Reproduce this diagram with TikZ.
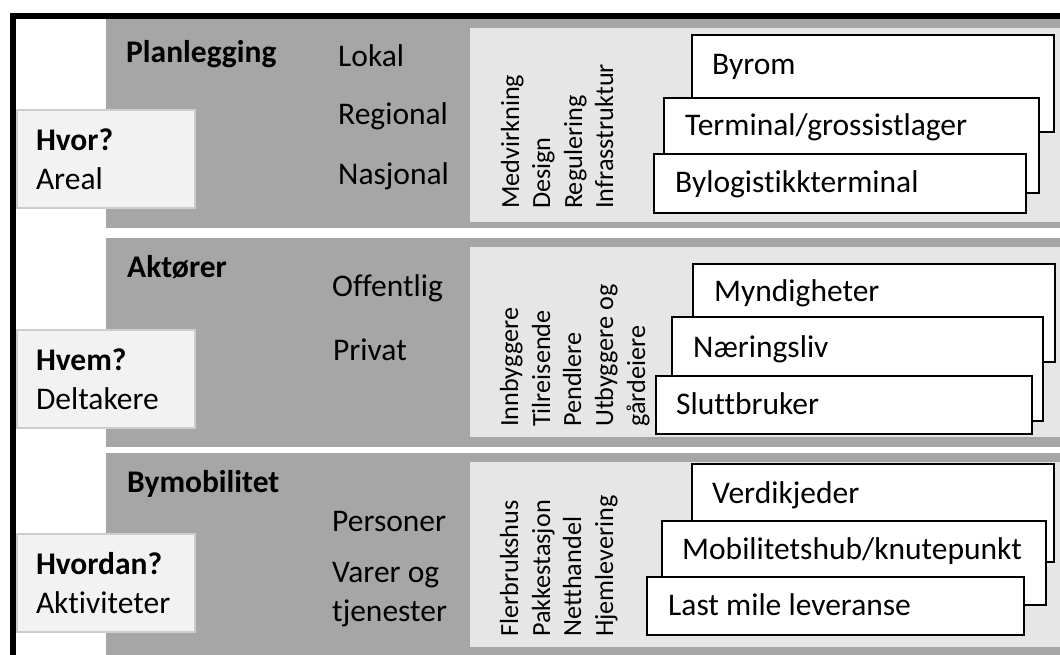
\documentclass[tikz,border=0pt]{standalone}
\usepackage{fontspec}
\setmainfont[Ligatures=NoCommon]{Carlito}
\usepackage{xcolor}
\definecolor{bandgray}{HTML}{A6A6A6}
\definecolor{panelgray}{HTML}{E7E6E6}
\definecolor{askfill}{HTML}{F2F2F2}
\definecolor{askline}{HTML}{CDCDCD}
\newcommand{\txtbig}{\fontsize{31.5}{39}\selectfont}
\newcommand{\txtsmall}{\fontsize{26.2}{32}\selectfont}
\tikzset{band/.style={fill=bandgray}, panel/.style={fill=panelgray}}
\tikzset{card/.style={draw=black, fill=white, line width=2.5pt}}
\tikzset{lbl/.style={anchor=base west, inner sep=0pt, font=\txtbig}}
\tikzset{vlbl/.style={rotate=90, anchor=base west, inner sep=0pt, font=\txtsmall}}
\tikzset{ask/.style={anchor=north west, draw=askline, fill=askfill, line width=1.5pt, outer sep=0pt, inner xsep=19pt, inner ysep=0pt, text width=140pt, minimum height=98pt, align=left, font=\txtbig}}

\begin{document}
\begin{tikzpicture}[x=1pt, y=-1pt]
\useasboundingbox (0,0) rectangle (1060,655);
% bands
\fill[band] (106,19) rectangle (1060,228); \fill[panel] (470,28) rectangle (1060,222);
\fill[band] (106,238) rectangle (1060,447); \fill[panel] (470,247) rectangle (1060,437);
\fill[band] (106,453) rectangle (1060,655); \fill[panel] (470,462) rectangle (1060,647);
\draw[line width=6pt] (13,655) -- (13,16) -- (1060,16);
% Hvor?
\node[ask] (hvor) at (17,110) {\textbf{Hvor?}\\Areal};
\node[lbl] (plan) at (126,63) {\textbf{Planlegging}};
\node[lbl] (lokal) at (338,67) {Lokal};
\node[lbl] (regional) at (338,125) {Regional};
\node[lbl] (nasjonal) at (338,185) {Nasjonal};
\node[vlbl] (medv) at (519,209) {Medvirkning};
\node[vlbl] (design) at (550,209) {Design};
\node[vlbl] (regul) at (582,209) {Regulering};
\node[vlbl] (infra) at (613,209) {Infrasstruktur};
\draw[card] (692,35) rectangle (1054,132); \node[lbl] (byrom) at (712,75) {Byrom};
\draw[card] (664,98) rectangle (1039,193); \node[lbl] (terminal) at (685,136) {Terminal/grossistlager};
\draw[card] (654,154) rectangle (1026,213); \node[lbl] (bylog) at (675,193) {Bylogistikkterminal};
% Hvem?
\node[ask] (hvem) at (17,330) {\textbf{Hvem?}\\Deltakere};
\node[lbl] (aktorer) at (127,277) {\textbf{Aktører}};
\node[lbl] (offentlig) at (332,296) {Offentlig};
\node[lbl] (privat) at (333,360) {Privat};
\node[vlbl] (innb) at (518,427) {Innbyggere};
\node[vlbl] (tilr) at (550,427) {Tilreisende};
\node[vlbl] (pendl) at (581,427) {Pendlere};
\node[vlbl] (utb) at (613,427) {Utbyggere og};
\node[vlbl] (gard) at (645,427) {gårdeiere};
\draw[card] (693,264) rectangle (1055,362); \node[lbl] (myndig) at (714,301) {Myndigheter};
\draw[card] (672,317) rectangle (1043,421); \node[lbl] (naering) at (693,357) {Næringsliv};
\draw[card] (656,376) rectangle (1032,434); \node[lbl] (slutt) at (676,414) {Sluttbruker};
% Hvordan?
\node[ask] (hvordan) at (17,534) {\textbf{Hvordan?}\\Aktiviteter};
\node[lbl] (bymob) at (127,492) {\textbf{Bymobilitet}};
\node[lbl] (personer) at (332,531) {Personer};
\node[lbl, anchor=north west, align=left] (varer) at (332,561.7) {Varer og\\tjenester};
\node[vlbl] (flerb) at (518,637) {Flerbrukshus};
\node[vlbl] (pakke) at (550,637) {Pakkestasjon};
\node[vlbl] (netth) at (581,637) {Netthandel};
\node[vlbl] (hjeml) at (613,637) {Hjemlevering};
\draw[card] (692,464) rectangle (1054,562); \node[lbl] (verdi) at (712,503) {Verdikjeder};
\draw[card] (662,521) rectangle (1046,605); \node[lbl] (mobil) at (682,559) {Mobilitetshub/knutepunkt};
\draw[card] (647,577) rectangle (1024,635); \node[lbl] (lastmile) at (668,615) {Last mile leveranse};
\end{tikzpicture}
\end{document}
